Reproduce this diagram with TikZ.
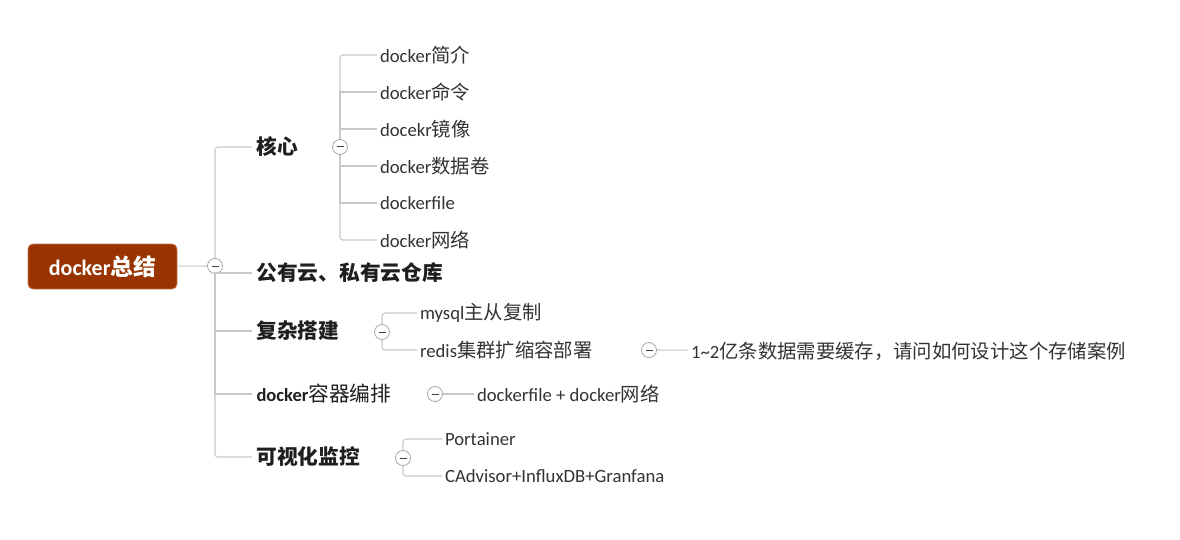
\documentclass[tikz,border=0pt]{standalone}
\usepackage{fontspec}
\setmainfont{Carlito}
\newfontfamily\cjk[Scale=1.035]{Noto Sans CJK SC}
\newfontfamily\cjkb[Scale=1.12]{Noto Sans CJK SC}
\newcommand{\zhtext}[1]{{\cjk #1}}
\newcommand{\zhbold}[1]{{\cjkb #1}}
\definecolor{rootfill}{HTML}{993300}
\definecolor{rootdraw}{HTML}{C0764F}
\definecolor{linkgray}{HTML}{C8C8C8}
\definecolor{foldgray}{HTML}{A8A8A8}
\definecolor{leaftext}{HTML}{333333}

\begin{document}
\begin{tikzpicture}[x=1pt,y=-1pt,line width=1.1pt,
  root/.style={rectangle,rounded corners=5pt,fill=rootfill,draw=rootdraw,line width=0.8pt,
    text=white,minimum width=149pt,minimum height=45pt,font=\bfseries\fontsize{22}{26}\selectfont},
  topic/.style={anchor=west,inner sep=4pt,text=black!88,font=\bfseries\fontsize{18.5}{23}\selectfont},
  leaf/.style={anchor=west,inner sep=2.5pt,text=leaftext,font=\fontsize{18.7}{22}\selectfont},
  fold/.style={circle,draw=foldgray,fill=white,line width=0.8pt,minimum size=15pt,inner sep=0pt,
    path picture={\draw[black!75,line width=1pt]
      ([xshift=-3.5pt]path picture bounding box.center) -- ([xshift=3.5pt]path picture bounding box.center);}},
  elbow/.style={to path={|- (\tikztotarget) \tikztonodes}}]
  \tikzstyle{link} = [draw=linkgray,line width=1.1pt]

  \useasboundingbox (0,0) rectangle (1180,540);

  \node[root] (ROOT)  at (102.5,266.5) {docker\zhtext{总结}};
  \node[fold] (FROOT) at (215,266) {};

  \node[topic] (CORE)    at (252,147) {\zhbold{核心}};
  \node[topic] (CLOUD)   at (252,273) {\zhbold{公有云、私有云仓库}};
  \node[topic] (BUILD)   at (252,331) {\zhbold{复杂搭建}};
  \node[topic] (ORCH)    at (252,394) {docker{\mdseries\zhbold{容器编排}}};
  \node[topic] (MONITOR) at (252,457) {\zhbold{可视化监控}};

  \node[fold] (FCORE)   at (340,147) {};
  \node[leaf] (INTRO)   at (377,55)  {docker\zhtext{简介}};
  \node[leaf] (CMD)     at (377,92)  {docker\zhtext{命令}};
  \node[leaf] (IMAGE)   at (377,129) {docekr\zhtext{镜像}};
  \node[leaf] (VOLUME)  at (377,166) {docker\zhtext{数据卷}};
  \node[leaf] (DFILE)   at (377,203) {dockerfile};
  \node[leaf] (NET)     at (377,240) {docker\zhtext{网络}};

  \node[fold] (FBUILD)  at (382,332) {};
  \node[leaf] (MYSQL)   at (417,313) {mysql\zhtext{主从复制}};
  \node[leaf] (REDIS)   at (417,350) {redis\zhtext{集群扩缩容部署}};
  \node[fold] (FREDIS)  at (649,350) {};
  \node[leaf] (CACHE)   at (688,351) {1\textasciitilde 2\zhtext{亿条数据需要缓存，请问如何设计这个存储案例}};

  \node[fold] (FORCH)   at (435,394) {};
  \node[leaf] (COMPOSE) at (474,394) {dockerfile + docker\zhtext{网络}};

  \node[fold] (FMON)    at (403,458) {};
  \node[leaf] (PORT)    at (442,439) {Portainer};
  \node[leaf] (CADV)    at (442,476) {CAdvisor+InfluxDB+Granfana};

\path[link]
      (ROOT)   edge                              (FROOT)
      (FROOT)  edge [elbow,rounded corners=3pt]  (CORE)
      (FROOT)  edge [elbow]                      (CLOUD)
      (FROOT)  edge [elbow]                      (BUILD)
      (FROOT)  edge [elbow]                      (ORCH)
      (FROOT)  edge [elbow,rounded corners=3pt]  (MONITOR)

      (FCORE)  edge [elbow,rounded corners=3pt]  (INTRO)
      (FCORE)  edge [elbow]                      (CMD)
      (FCORE)  edge [elbow]                      (IMAGE)
      (FCORE)  edge [elbow]                      (VOLUME)
      (FCORE)  edge [elbow]                      (DFILE)
      (FCORE)  edge [elbow,rounded corners=3pt]  (NET)

      (FBUILD) edge [elbow,rounded corners=3pt]  (MYSQL)
      (FBUILD) edge [elbow,rounded corners=3pt]  (REDIS)
      (FREDIS) edge                              (CACHE)
      (FORCH)  edge                              (COMPOSE)
      (FMON)   edge [elbow,rounded corners=3pt]  (PORT)
      (FMON)   edge [elbow,rounded corners=3pt]  (CADV);

\end{tikzpicture}
\end{document}
